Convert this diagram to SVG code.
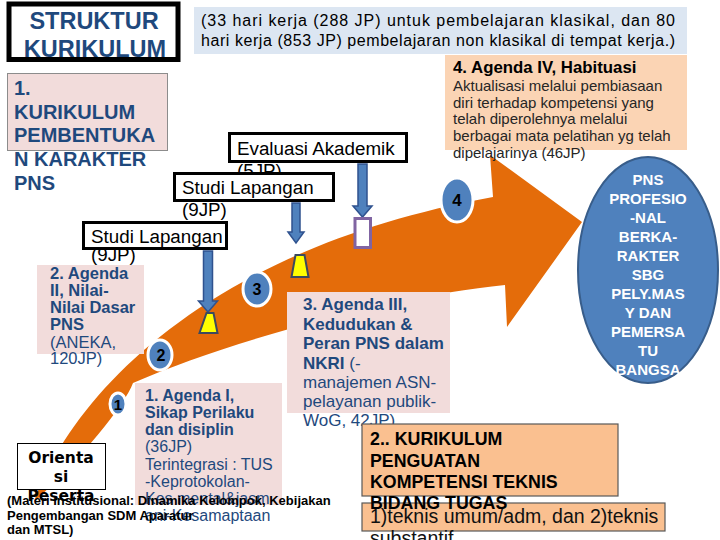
<svg xmlns="http://www.w3.org/2000/svg" width="720" height="540" viewBox="0 0 720 540">
<style>
text{font-family:"Liberation Sans",Arial,sans-serif}
.b{font-weight:bold}
.nv{fill:#1f497d}
.pk{fill:#f2dcdb;stroke:#8c8c8c;stroke-width:1}
.lb{fill:#fff;stroke:#000;stroke-width:3}
.ba{fill:#4f81bd;stroke:#2f528f;stroke-width:1.5}
.yl{fill:#ffff00;stroke:#3b4a5e;stroke-width:2}
.nc{fill:#4f81bd;stroke:#fff;stroke-width:3}
.nt{font-weight:bold;fill:#000;text-anchor:middle}
.or{fill:#fac090;stroke:#595959;stroke-width:1.2}
.gt{font-weight:bold;fill:#fff;font-size:15px;text-anchor:middle}
.sl{font-size:18.8px;fill:#000}
</style>
<rect width="720" height="540" fill="#fff"/>

<g id="flow-arrow">
<path d="M34 502 C70 400 200 250 493 197 L490 155 L582 222 L507 327 L505 285 C400 295 230 340 133 383 C125 405 80 460 34 502 Z" fill="#e46c0a"/>
</g>

<g id="title">
<rect x="9" y="4" width="169" height="55.5" fill="#fff" stroke="#000" stroke-width="5"/>
<text x="94" y="28.5" class="b nv" font-size="23.5" text-anchor="middle">STRUKTUR</text>
<text x="95" y="56.5" class="b nv" font-size="23.5" text-anchor="middle">KURIKULUM</text>
</g>

<g id="info-box">
<rect x="194" y="7" width="493" height="47" fill="#dce6f2"/>
<text x="201" y="25.5" font-size="16" textLength="474" lengthAdjust="spacing">(33 hari kerja (288 JP) untuk pembelajaran klasikal, dan 80</text>
<text x="201" y="45.5" font-size="16" textLength="474" lengthAdjust="spacing">hari kerja (853 JP) pembelajaran non klasikal di tempat kerja.)</text>
</g>

<g id="kurikulum-1">
<rect x="7.5" y="73.5" width="160" height="77" class="pk"/>
<g class="b nv" font-size="20">
<text x="14" y="95">1.</text>
<text x="14" y="118.5">KURIKULUM</text>
<text x="14" y="142">PEMBENTUKA</text>
<text x="14" y="166">N KARAKTER</text>
<text x="14" y="190">PNS</text>
</g>
</g>

<g id="agenda-4">
<rect x="445" y="55" width="242" height="95" fill="#fbd4b4"/>
<text x="453" y="73" class="b" font-size="16.8" fill="#000">4. Agenda IV, Habituasi</text>
<g font-size="15" fill="#262626">
<text x="453" y="90.5">Aktualisasi melalui pembiasaan</text>
<text x="453" y="107.5">diri terhadap kompetensi yang</text>
<text x="453" y="124">telah diperolehnya melalui</text>
<text x="453" y="141">berbagai mata pelatihan yg telah</text>
<text x="453" y="157.5">dipelajarinya (46JP)</text>
</g>
</g>

<g id="goal">
<ellipse cx="648" cy="270" rx="70" ry="113" fill="#4f81bd" stroke="#385d8a" stroke-width="2"/>
<text x="648" y="185" class="gt">PNS</text>
<text x="648" y="204" class="gt">PROFESIO</text>
<text x="648" y="223" class="gt">-NAL</text>
<text x="648" y="242" class="gt">BERKA-</text>
<text x="648" y="261" class="gt">RAKTER</text>
<text x="648" y="280" class="gt">SBG</text>
<text x="648" y="299" class="gt">PELY.MAS</text>
<text x="648" y="318" class="gt">Y DAN</text>
<text x="648" y="337" class="gt">PEMERSA</text>
<text x="648" y="356" class="gt">TU</text>
<text x="648" y="375" class="gt">BANGSA</text>
</g>

<g id="eval-akademik">
<text x="237" y="177" class="sl">(5JP)</text>
<rect x="229.5" y="133.5" width="177" height="28" class="lb"/>
<text x="237" y="155" class="sl">Evaluasi Akademik</text>
</g>

<g id="studi-lapangan-1">
<text x="182" y="216" class="sl">(9JP)</text>
<rect x="174.5" y="173.5" width="159" height="27" class="lb"/>
<text x="182" y="194" class="sl">Studi Lapangan</text>
</g>

<g id="studi-lapangan-2">
<text x="91" y="260.5" class="sl">(9JP)</text>
<rect x="83.5" y="222.5" width="143" height="26" class="lb"/>
<text x="91" y="243" class="sl">Studi Lapangan</text>
</g>

<g id="connectors">
<polygon class="ba" points="203.5,251 212.5,251 212.5,301 217.5,301 208,312 198.5,301 203.5,301"/>
<polygon class="ba" points="292,203 300,203 300,232 304,232 296,243 288,232 292,232"/>
<polygon class="ba" points="358,164 367,164 367,206 372,206 362.5,217 353,206 358,206"/>
</g>

<g id="marker-a"><polygon class="yl" points="206.5,313 213.5,313 217.5,333 199.5,333"/></g>
<g id="marker-b"><polygon class="yl" points="295.5,255 304.5,255 308.5,277 291.5,277"/></g>
<g id="marker-c"><rect x="355" y="218.5" width="15.5" height="29" fill="#fff" stroke="#8064a2" stroke-width="3"/></g>

<g id="step-1"><ellipse cx="118" cy="404" rx="8" ry="11" class="nc"/><text x="118" y="410" class="nt" font-size="15">1</text></g>
<g id="step-2"><ellipse cx="160" cy="355" rx="12" ry="15" class="nc"/><text x="161" y="361" class="nt" font-size="16">2</text></g>
<g id="step-3"><ellipse cx="257" cy="289" rx="14" ry="17" class="nc"/><text x="257" y="295" class="nt" font-size="16">3</text></g>
<g id="step-4"><ellipse cx="457" cy="200" rx="16" ry="22" class="nc"/><text x="457" y="206" class="nt" font-size="17">4</text></g>

<g id="agenda-2">
<rect x="37" y="265" width="107" height="89" fill="#f2dcdb"/>
<g font-size="16.5" class="nv">
<text x="50" y="279" class="b">2. Agenda</text>
<text x="50" y="295.5" class="b">II, Nilai-</text>
<text x="50" y="313" class="b">Nilai Dasar</text>
<text x="50" y="330" class="b">PNS</text>
<text x="50" y="347.5">(ANEKA,</text>
<text x="50" y="364">120JP)</text>
</g>
</g>

<g id="agenda-3">
<rect x="287" y="292" width="163" height="121" fill="#f2dcdb"/>
<g font-size="17" class="nv">
<text x="303" y="310" class="b">3. Agenda III,</text>
<text x="303" y="329.5" class="b">Kedudukan &amp;</text>
<text x="303" y="349" class="b">Peran PNS dalam</text>
<text x="303" y="368.5"><tspan class="b">NKRI</tspan> (-</text>
<text x="303" y="388">manajemen ASN-</text>
<text x="303" y="407">pelayanan publik-</text>
<text x="303" y="426">WoG, 42JP)</text>
</g>
</g>

<g id="agenda-1">
<rect x="135" y="383" width="147" height="122" fill="#f2dcdb"/>
<g font-size="16" class="nv">
<text x="145" y="401" class="b">1. Agenda I,</text>
<text x="145" y="418" class="b">Sikap Perilaku</text>
<text x="145" y="434.5" class="b">dan disiplin</text>
<text x="145" y="452">(36JP)</text>
<text x="145" y="469.5">Terintegrasi : TUS</text>
<text x="145" y="487">-Keprotokolan-</text>
<text x="145" y="504">Kes mental&amp;jasm</text>
<text x="145" y="521">ani-Kesamaptaan</text>
</g>
</g>

<g id="orientasi">
<rect x="17.5" y="443.5" width="88" height="46" fill="#fff" stroke="#000" stroke-width="1"/>
<g font-family="'DejaVu Sans',sans-serif" font-weight="bold" font-size="15.5" text-anchor="middle" fill="#000">
<text x="61" y="463" style="font-family:'DejaVu Sans',sans-serif">Orienta</text>
<text x="61" y="482" style="font-family:'DejaVu Sans',sans-serif">si</text>
<text x="61" y="501" style="font-family:'DejaVu Sans',sans-serif">Peserta</text>
</g>
</g>

<g id="materi-institusional" class="b" font-size="13" fill="#000">
<text x="7" y="505">(Materi Institusional: Dinamika Kelompok, Kebijakan</text>
<text x="7" y="520">Pengembangan SDM Aparatur</text>
<text x="7" y="534">dan MTSL)</text>
</g>

<g id="teknis">
<rect x="362" y="503" width="303" height="28" class="or"/>
<text x="370" y="523" font-size="19.5" fill="#111">1)teknis umum/adm, dan 2)teknis</text>
<text x="370" y="545" font-size="19.5" fill="#111">substantif</text>
</g>

<g id="kurikulum-2">
<rect x="362" y="424" width="256" height="72" class="or"/>
<g class="b" font-size="17.8" fill="#000">
<text x="370" y="445">2.. KURIKULUM</text>
<text x="370" y="466.5">PENGUATAN</text>
<text x="370" y="488">KOMPETENSI TEKNIS</text>
<text x="370" y="509">BIDANG TUGAS</text>
</g>
</g>
</svg>
